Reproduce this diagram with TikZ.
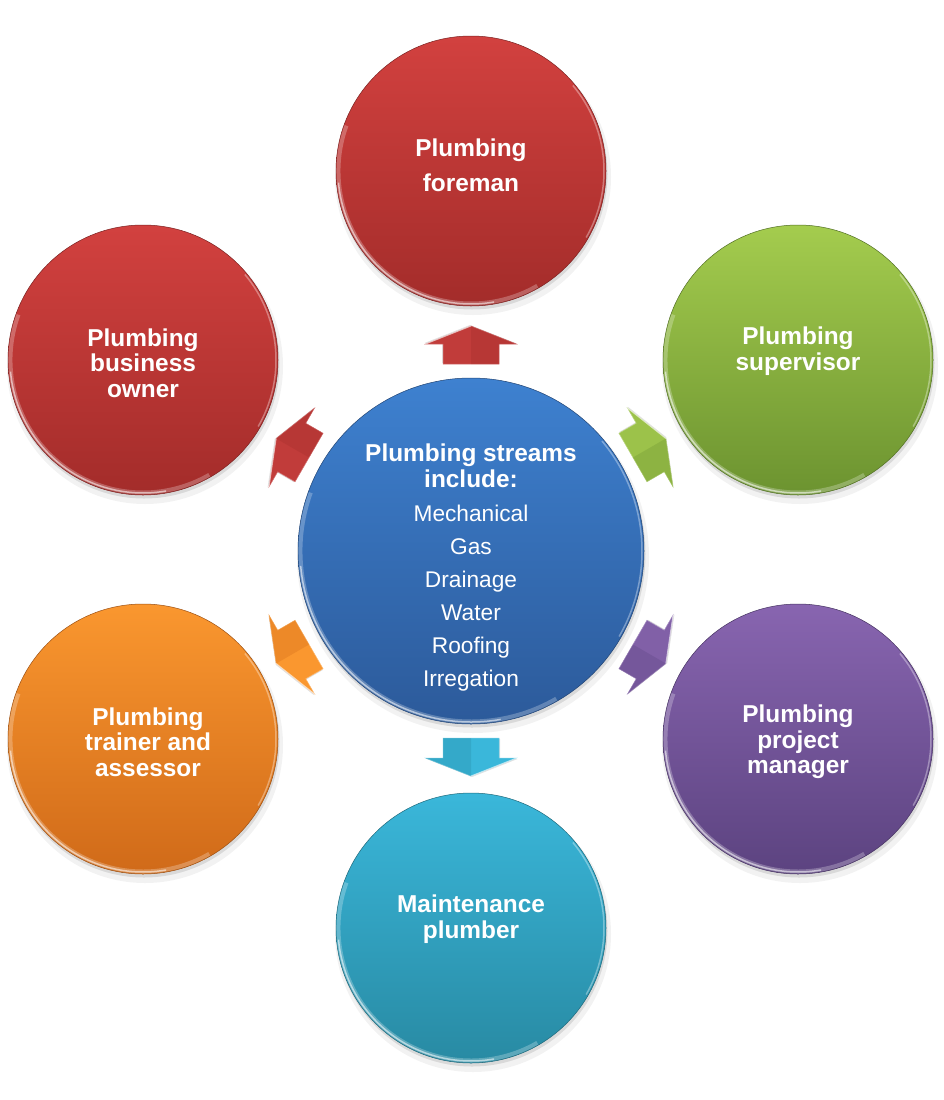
\documentclass[tikz,border=0pt]{standalone}
\usepackage{fontspec}
\setmainfont{Liberation Sans}
\usetikzlibrary{calc}
\definecolor{redT}{HTML}{D2413F}
\definecolor{redB}{HTML}{A32C2A}
\definecolor{greenT}{HTML}{A4CC4E}
\definecolor{greenB}{HTML}{6C9330}
\definecolor{purpleT}{HTML}{8865B0}
\definecolor{purpleB}{HTML}{5C4380}
\definecolor{orangeT}{HTML}{FA972F}
\definecolor{orangeB}{HTML}{D06A19}
\definecolor{cyanT}{HTML}{3AB7DA}
\definecolor{cyanB}{HTML}{288AA3}
\definecolor{blueT}{HTML}{3E81D0}
\definecolor{blueB}{HTML}{2C5A9A}
\tikzset{
  ball/.style={circle, inner sep=0pt, draw=none},
  boldtext/.style={text=white, align=center, inner sep=0pt,
    font=\fontsize{24.4}{25.5}\selectfont\bfseries},
  listtext/.style={text=white, align=center, inner sep=0pt,
    font=\fontsize{22.7}{33}\selectfont},
  blockarrow/.style={line width=0.5pt},
}
\newcommand\myball[6]{%
  \fill[black,opacity=0.05] (#2+2,-#3-6) circle (#4+3);
  \fill[black,opacity=0.10] (#2+1,-#3-3) circle (#4+0.5);
  \node[ball, minimum size={(2*#4)*1pt}, top color=#5, bottom color=#6] (#1) at (#2,-#3) {};
  \draw[#6!75!black, line width=0.5pt] (#1.center) ++(0:#4) arc[start angle=0,end angle=360,radius=#4];
  \draw[white, opacity=0.25, line width=4pt] (#1.center) ++(160:#4-2.5) arc[start angle=160,end angle=300,radius=#4-2.5];
  \draw[white, opacity=0.55, line width=1.5pt] (#1.center) ++(185:#4-2) arc[start angle=185,end angle=280,radius=#4-2];
  \draw[white, opacity=0.35, line width=1.5pt] (#1.center) ++(-30:#4-2) arc[start angle=-30,end angle=40,radius=#4-2];
}
\newcommand\myarrow[3]{%
  \begin{scope}[shift={(c.center)}, rotate=#1]
    \fill[black,opacity=0.12] (188,-27) -- (208,-27) -- (208,-44.5) -- (226,1) -- (208,46.5) -- (208,29) -- (188,29) -- cycle;
    \fill[#2, draw=#2!70!white, blockarrow] (187,-28) -- (207,-28) -- (207,-45.5) -- (225,0) -- (207,45.5) -- (207,28) -- (187,28) -- cycle;
    \fill[#3, opacity=0.3] (187,-28) -- (207,-28) -- (207,-45.5) -- (225,0) -- (187,0) -- cycle;
    \draw[white, opacity=0.5, line width=1pt] (207,45.5) -- (225,0);
  \end{scope}
}
\begin{document}
\begin{tikzpicture}[x=1pt,y=1pt]
\useasboundingbox (0,0) rectangle (943,-1100);
\fill[white] (0,0) rectangle (943,-1100);
% circles
\myball{c}{471}{551}{173}{blueT}{blueB}
\myball{t}{471}{171}{135}{redT}{redB}
\myball{tl}{143}{360}{135}{redT}{redB}
\myball{tr}{798}{360}{135}{greenT}{greenB}
\myball{bl}{143}{739}{135}{orangeT}{orangeB}
\myball{br}{798}{739}{135}{purpleT}{purpleB}
\myball{b}{471}{928}{135}{cyanT}{cyanB}
% arrows
\myarrow{90}{redT!92!black}{redB}
\myarrow{30}{greenT!95!black}{greenB}
\myarrow{-30}{purpleT!95!black}{purpleB}
\myarrow{-90}{cyanT}{cyanB}
\myarrow{-150}{orangeT}{orangeB}
\myarrow{150}{redT!92!black}{redB}
% texts
\node[boldtext] (ct) at (471,-466) {Plumbing streams\\include:};
\node[listtext] (cl) at (471,-598.5) {Mechanical\\Gas\\Drainage\\Water\\Roofing\\Irregation};
\node[boldtext, font=\fontsize{24.4}{35}\selectfont\bfseries] (tt) at (471,-165.5) {Plumbing\\foreman};
\node[boldtext] (tlt) at (143,-363) {Plumbing\\business\\owner};
\node[boldtext] (trt) at (798,-351) {Plumbing\\supervisor};
\node[boldtext] (blt) at (148,-742) {Plumbing\\trainer and\\assessor};
\node[boldtext] (brt) at (798,-742) {Plumbing\\project\\manager};
\node[boldtext] (bt) at (471,-919) {Maintenance\\plumber};
\end{tikzpicture}
\end{document}
